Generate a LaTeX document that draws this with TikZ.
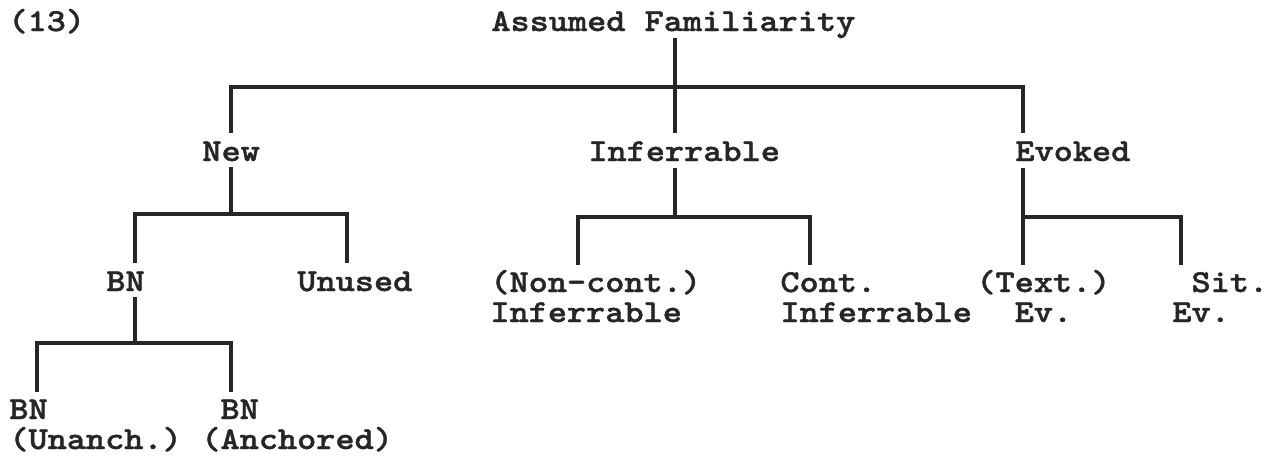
\documentclass[tikz,border=0pt]{standalone}
\usepackage{fontspec}
\newfontfamily\treefont{lmmonolt10-bold}[Extension=.otf, FakeStretch=1.14, FakeBold=1.2]
\usetikzlibrary{positioning}
\definecolor{inkgray}{HTML}{262626}
\tikzset{
  branch/.style={draw=inkgray, line width=1.6pt},
}

\begin{document}
\begin{tikzpicture}[x=0.5pt, y=-0.5pt,
    term/.style={anchor=base west, inner sep=0pt, align=left, text=inkgray,
                 font=\treefont\fontsize{16}{15}\selectfont}]
        \useasboundingbox (0,0) rectangle (1280,457);
        % labels (two-line labels are placed by their last line)
        \node[term] (ex)     at (8,31)     {(13)};
        \node[term] (root)   at (491,31)   {Assumed Familiarity};
        \node[term] (new)    at (202,161)  {New};
        \node[term] (inf)    at (588,161)  {Inferrable};
        \node[term] (evo)    at (1015,161) {Evoked};
        \node[term] (bn)     at (106,291)  {BN};
        \node[term] (unused) at (297,291)  {Unused};
        \node[term] (ncinf)  at (490,322)  {(Non-cont.)\\Inferrable};
        \node[term] (cinf)   at (780,322)  {Cont.\\Inferrable};
        \node[term] (tev)    at (976,322)  {(Text.)\\\phantom{(T}Ev.};
        \node[term] (sev)    at (1172,322) {\phantom{(}Sit.\\Ev.};
        \node[term] (bnu)    at (9,449)    {BN\\(Unanch.)};
        \node[term] (bna)    at (201,449)  {\phantom{(}BN\\(Anchored)};

        % ends of the branches
        \coordinate (root-out) at (675,38);
        \coordinate (top-fork) at (675,87);
        \coordinate (new-in)   at (231,133);
        \coordinate (new-out)  at (231,167);
        \coordinate (new-fork) at (231,214);
        \coordinate (inf-in)   at (675,133);
        \coordinate (inf-out)  at (675,168);
        \coordinate (inf-fork) at (675,217);
        \coordinate (evo-in)   at (1023,133);
        \coordinate (evo-out)  at (1023,168);
        \coordinate (evo-fork) at (1023,217);
        \coordinate (bn-in)    at (135,263);
        \coordinate (bn-out)   at (135,297);
        \coordinate (bn-fork)  at (135,343);
        \coordinate (unused-in) at (347,263);
        \coordinate (ncinf-in) at (578,265);
        \coordinate (cinf-in)  at (810,265);
        \coordinate (tev-in)   at (1023,265);
        \coordinate (sev-in)   at (1181,265);
        \coordinate (bnu-in)   at (37,392);
        \coordinate (bna-in)   at (231,392);

        \draw[branch] (root-out) -- (top-fork) -| (new-in);
        \draw[branch] (top-fork) -| (evo-in);
        \draw[branch] (top-fork) -- (inf-in);
        \draw[branch] (new-out) -- (new-fork) -| (bn-in);
        \draw[branch] (new-fork) -| (unused-in);
        \draw[branch] (inf-out) -- (inf-fork) -| (ncinf-in);
        \draw[branch] (inf-fork) -| (cinf-in);
        \draw[branch] (evo-out) -- (tev-in);
        \draw[branch] (evo-fork) -| (sev-in);
        \draw[branch] (bn-out) -- (bn-fork) -| (bnu-in);
        \draw[branch] (bn-fork) -| (bna-in);
    \end{tikzpicture}
\end{document}
